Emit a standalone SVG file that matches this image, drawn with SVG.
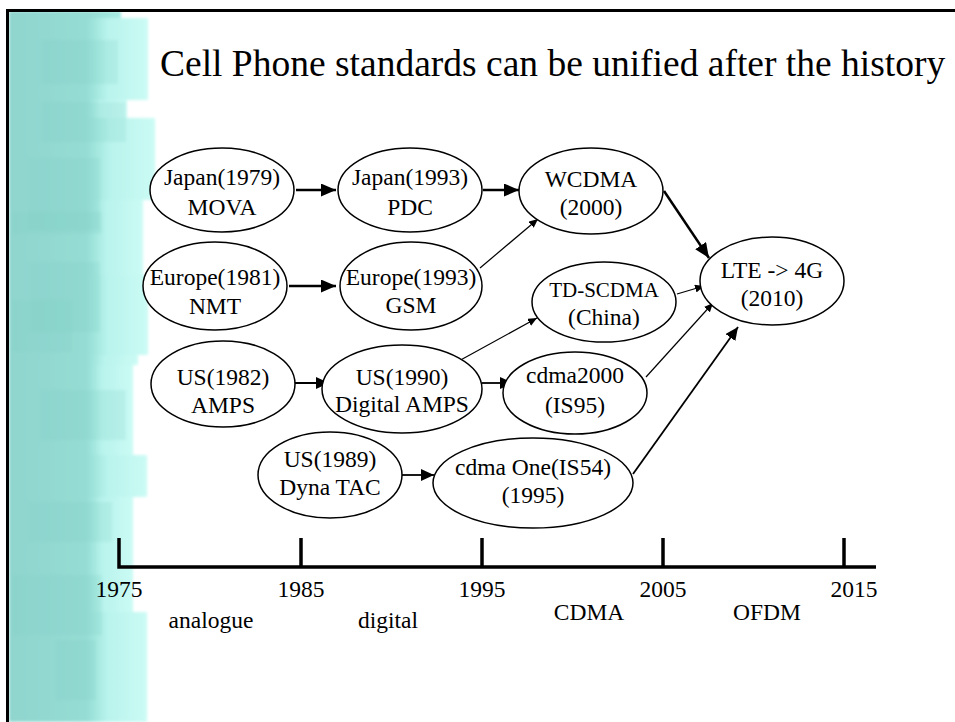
<svg xmlns="http://www.w3.org/2000/svg" width="955" height="722" viewBox="0 0 955 722">
  <defs>
    <linearGradient id="bandBase" x1="0" y1="0" x2="1" y2="0">
      <stop offset="0" stop-color="#8fd5ce"/>
      <stop offset="0.7" stop-color="#95dcd4"/>
      <stop offset="1" stop-color="#a6ebe3"/>
    </linearGradient>
    <linearGradient id="bandLight" x1="0" y1="0" x2="1" y2="0">
      <stop offset="0" stop-color="#a2e8e0" stop-opacity="0"/>
      <stop offset="0.35" stop-color="#b8f3ec"/>
      <stop offset="1" stop-color="#cbfbf5"/>
    </linearGradient>
    <filter id="soft" x="-5%" y="-5%" width="110%" height="110%">
      <feGaussianBlur stdDeviation="1.6"/>
    </filter>
    <marker id="headBig" markerUnits="userSpaceOnUse" markerWidth="16" markerHeight="14" refX="15" refY="6.5" orient="auto">
      <path d="M0,0 L15,6.5 L0,13 z" fill="#000"/>
    </marker>
    <marker id="headMid" markerUnits="userSpaceOnUse" markerWidth="14" markerHeight="13" refX="13" refY="6" orient="auto">
      <path d="M0,0 L13,6 L0,12 z" fill="#000"/>
    </marker>
    <marker id="headSmall" markerUnits="userSpaceOnUse" markerWidth="10" markerHeight="9" refX="9" refY="4" orient="auto">
      <path d="M0,0 L9,4 L0,8 z" fill="#000"/>
    </marker>
  </defs>
  <style>
    .node ellipse { fill: #fff; stroke: #000; stroke-width: 1.5; }
    .node text, .lbl { font-family: "Liberation Serif", "Times New Roman", serif; font-size: 23.5px; fill: #000; text-anchor: middle; }
    .title { font-family: "Liberation Serif", "Times New Roman", serif; font-size: 37.5px; fill: #000; }
    .big { stroke: #000; stroke-width: 2.5; fill: none; marker-end: url(#headBig); }
    .mid { stroke: #000; stroke-width: 1.8; fill: none; marker-end: url(#headMid); }
    .thin { stroke: #000; stroke-width: 1.2; fill: none; marker-end: url(#headSmall); }
    .axis { stroke: #000; stroke-width: 3.5; fill: none; }
    .light { fill: url(#bandLight); }
    .shade { fill: #7ccbc3; opacity: 0.2; }
  </style>

  <rect x="0" y="0" width="955" height="722" fill="#fff"/>

  <!-- decorative teal band on the left -->
  <g id="band" filter="url(#soft)">
    <rect x="9" y="11" width="112" height="711" fill="url(#bandBase)"/>
    <rect class="light" x="85" y="18" width="63" height="82"/>
    <rect class="light" x="85" y="100" width="42" height="18"/>
    <rect class="light" x="85" y="118" width="70" height="82"/>
    <rect class="light" x="85" y="200" width="58" height="75"/>
    <rect class="light" x="85" y="275" width="63" height="80"/>
    <rect class="light" x="85" y="355" width="53" height="10"/>
    <rect class="light" x="85" y="365" width="48" height="90"/>
    <rect class="light" x="85" y="455" width="62" height="42"/>
    <rect class="light" x="85" y="497" width="48" height="115"/>
    <rect class="light" x="85" y="612" width="62" height="110"/>
    <rect class="shade" x="42" y="40" width="76" height="44"/>
    <rect class="shade" x="42" y="102" width="84" height="40"/>
    <rect class="shade" x="28" y="158" width="72" height="72"/>
    <rect class="shade" x="12" y="212" width="90" height="22"/>
    <rect class="shade" x="30" y="262" width="70" height="70"/>
    <rect class="shade" x="12" y="300" width="60" height="52"/>
    <rect class="shade" x="40" y="390" width="86" height="50"/>
    <rect class="shade" x="28" y="502" width="84" height="40"/>
    <rect class="shade" x="12" y="575" width="90" height="60"/>
    <rect class="shade" x="56" y="640" width="40" height="60"/>
  </g>

  <!-- slide frame -->
  <line x1="6" y1="10.5" x2="955" y2="10.5" stroke="#000" stroke-width="3"/>
  <line x1="7.5" y1="9" x2="7.5" y2="722" stroke="#000" stroke-width="3"/>

  <text class="title" x="160" y="76">Cell Phone standards can be unified after the history</text>

  <!-- connectors -->
  <g id="connectors">
    <line class="big" x1="296" y1="190" x2="336" y2="190"/>
    <line class="big" x1="483" y1="190" x2="519" y2="190"/>
    <line class="big" x1="289" y1="286" x2="336" y2="286"/>
    <line class="big" x1="664" y1="191" x2="709" y2="258"/>
    <line class="thin" x1="480" y1="268" x2="538" y2="219"/>
    <line class="thin" x1="677" y1="294" x2="704" y2="286"/>
    <line class="thin" x1="457" y1="362" x2="537" y2="318"/>
    <line class="thin" x1="646" y1="377" x2="713" y2="303"/>
    <line class="mid" x1="295" y1="383" x2="329" y2="383"/>
    <line class="mid" x1="482" y1="383" x2="513" y2="383"/>
    <line class="mid" x1="402" y1="475" x2="434" y2="475"/>
    <line class="mid" x1="633" y1="474" x2="738" y2="327"/>
  </g>

  <!-- standards -->
  <g id="japan1979" class="node">
    <ellipse cx="222" cy="190" rx="72" ry="42"/>
    <text x="222" y="185">Japan(1979)</text>
    <text x="222" y="215">MOVA</text>
  </g>
  <g id="japan1993" class="node">
    <ellipse cx="410" cy="190" rx="72" ry="42"/>
    <text x="410" y="185">Japan(1993)</text>
    <text x="410" y="215">PDC</text>
  </g>
  <g id="europe1981" class="node">
    <ellipse cx="215" cy="286" rx="72" ry="44"/>
    <text x="215" y="285">Europe(1981)</text>
    <text x="215" y="314">NMT</text>
  </g>
  <g id="europe1993" class="node">
    <ellipse cx="411" cy="286" rx="71" ry="44"/>
    <text x="411" y="285">Europe(1993)</text>
    <text x="411" y="313">GSM</text>
  </g>
  <g id="wcdma" class="node">
    <ellipse cx="591" cy="191" rx="72" ry="43"/>
    <text x="591" y="187">WCDMA</text>
    <text x="591" y="215">(2000)</text>
  </g>
  <g id="tdscdma" class="node">
    <ellipse cx="604" cy="302" rx="72" ry="40"/>
    <text x="604" y="297" style="font-size:21px">TD-SCDMA</text>
    <text x="604" y="325">(China)</text>
  </g>
  <g id="lte" class="node">
    <ellipse cx="772" cy="281" rx="72" ry="44"/>
    <text x="772" y="278">LTE -&gt; 4G</text>
    <text x="772" y="306">(2010)</text>
  </g>
  <g id="us1982" class="node">
    <ellipse cx="223" cy="384" rx="72" ry="43"/>
    <text x="223" y="385">US(1982)</text>
    <text x="223" y="413">AMPS</text>
  </g>
  <g id="us1990" class="node">
    <ellipse cx="402" cy="389" rx="80" ry="44"/>
    <text x="402" y="385">US(1990)</text>
    <text x="402" y="412">Digital AMPS</text>
  </g>
  <g id="cdma2000" class="node">
    <ellipse cx="575" cy="393" rx="72" ry="41"/>
    <text x="575" y="383">cdma2000</text>
    <text x="575" y="413">(IS95)</text>
  </g>
  <g id="us1989" class="node">
    <ellipse cx="330" cy="475" rx="72" ry="43"/>
    <text x="330" y="467">US(1989)</text>
    <text x="330" y="495">Dyna TAC</text>
  </g>
  <g id="cdmaone" class="node">
    <ellipse cx="533" cy="483" rx="100" ry="45"/>
    <text x="533" y="475">cdma One(IS54)</text>
    <text x="533" y="503">(1995)</text>
  </g>

  <!-- timeline -->
  <g id="timeline">
    <path class="axis" d="M119,538 V567 H876"/>
    <line class="axis" x1="301" y1="538" x2="301" y2="567"/>
    <line class="axis" x1="482" y1="538" x2="482" y2="567"/>
    <line class="axis" x1="663" y1="538" x2="663" y2="567"/>
    <line class="axis" x1="844" y1="538" x2="844" y2="567"/>
    <text class="lbl" x="119" y="597">1975</text>
    <text class="lbl" x="301" y="597">1985</text>
    <text class="lbl" x="482" y="597">1995</text>
    <text class="lbl" x="663" y="597">2005</text>
    <text class="lbl" x="854" y="597">2015</text>
    <text class="lbl" x="211" y="628">analogue</text>
    <text class="lbl" x="388" y="628">digital</text>
    <text class="lbl" x="589" y="620">CDMA</text>
    <text class="lbl" x="767" y="620">OFDM</text>
  </g>
</svg>
